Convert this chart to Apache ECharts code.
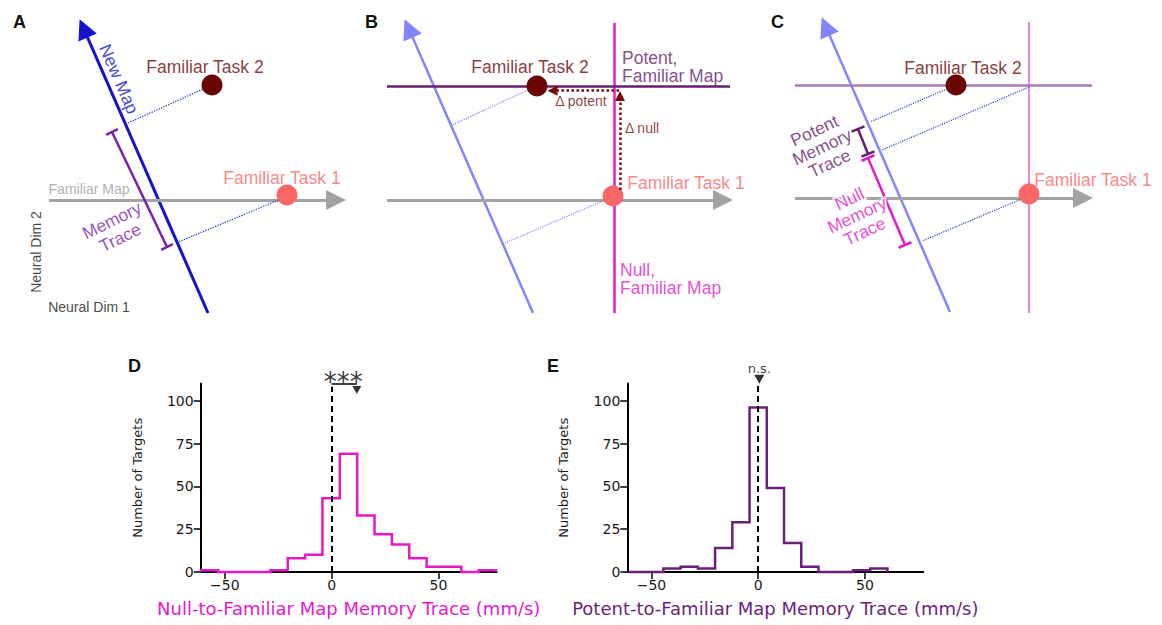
<!DOCTYPE html>
<html><head><meta charset="utf-8">
<script src="https://cdn.jsdelivr.net/npm/echarts@6/dist/echarts.min.js"></script>
<style>html,body{margin:0;padding:0;background:#fff}#c{width:1162px;height:625px}</style>
</head><body><div id="c"></div>
<script>
// ================= DATA =================
// Histogram D: null-to-familiar map memory trace (mm/s)
const nullBinStart = -61.2;
const nullBinWidth = 8.13;
const nullCounts = [1, 0, 0, 0, 1, 8, 10, 43, 69, 33, 22, 16, 8, 3, 3, 0, 1];
const nullMean = 11.8;
// Histogram E: potent-to-familiar map memory trace (mm/s)
const potentBinStart = -60.54;
const potentBinWidth = 8.07;
const potentCounts = [0, 0, 2, 3, 2, 14, 29, 96, 49, 17, 3, 0, 0, 1, 2];
const potentMean = 0.5;
// Tick labels
const xTicks = [-50, 0, 50];
const yTicks = [0, 25, 50, 75, 100];

// Schematic geometry (local diagram units per panel)
const A_newMap = [[208, 313], [83.6, 28.3]];
const A_familiarMap = [[49, 200], [336, 200]];
const A_projections = [[[212, 85], [128, 123]], [[281, 199], [178, 242]]];
const A_memoryTrace = [[112, 132], [167, 247]];
const A_task1 = [287, 195];
const A_task2 = [212, 85];

const B_newMap = [[173, 313], [48.6, 28.3]];
const B_familiarMap = [[27, 200], [363, 200]];
const B_nullAxis = [[254, 23], [254, 313]];
const B_potentAxis = [[27, 86], [370, 86]];
const B_deltaPotent = [[259, 90.7], [192.5, 90.7]];
const B_deltaNull = [[260, 190], [260, 96]];
const B_projections = [[[168, 90], [92, 125]], [[245, 200], [145, 243]]];
const B_task1 = [253, 196];
const B_task2 = [177, 86];

const C_newMap = [[190, 312], [65.6, 26.3]];
const C_familiarMap = [[35, 198], [323, 198]];
const C_nullAxis = [[269, 22], [269, 313]];
const C_potentAxis = [[35, 85], [332, 85]];
const C_projections = [[[196, 85], [110, 122]], [[269, 87], [122, 150]], [[264, 198], [162, 241]]];
const C_potentTrace = [[98, 129], [108, 154]];
const C_nullTrace = [[108, 158], [145, 245]];
const C_task1 = [269, 194];
const C_task2 = [196, 85];

// ================= STYLE =================
const SANS = '"Liberation Sans", Arial, sans-serif';
const DJV = '"DejaVu Sans", sans-serif';
const COL = {
  blue: '#1414cc', lightBlue: '#8484ff', projBlue: '#2d3be3', gray: '#a3a3a3',
  task1: '#f96767', task2: '#6b0505', purple: '#7b1fb0', magenta: '#e21cc6',
  darkPurple: '#64206e', lightMag: '#e984e1', lightPurple: '#a87ab1', brown: '#7a0a0a',
  histMag: '#e619c8', histPur: '#6b1f7a'
};

const series = [];
function seg(g, coords, color, width, o) {
  o = o || {};
  series.push({
    type: 'lines', coordinateSystem: 'cartesian2d', xAxisIndex: g, yAxisIndex: g,
    polyline: false, clip: false, silent: true, z: o.z || 3, animation: false,
    symbol: o.arrow ? ['none', 'triangle'] : 'none',
    symbolSize: o.arrow ? [0, o.arrow] : 0,
    lineStyle: { color: color, width: width, type: o.type || 'solid', opacity: 1, curveness: 0 },
    data: [{ coords: coords }]
  });
}
function bracket(g, p, color, width, cap) {
  seg(g, p, color, width);
  const dx = p[1][0] - p[0][0], dy = p[1][1] - p[0][1];
  const L = Math.hypot(dx, dy), nx = -dy / L * cap / 2, ny = dx / L * cap / 2;
  p.forEach(q => seg(g, [[q[0] - nx, q[1] - ny], [q[0] + nx, q[1] + ny]], color, width));
}
function dots(g, pts) {
  series.push({
    type: 'scatter', xAxisIndex: g, yAxisIndex: g, clip: false, silent: true, z: 4, animation: false,
    symbolSize: 21,
    data: pts.map(p => ({ value: p[0], itemStyle: { color: p[1], opacity: 1 } }))
  });
}
function texts(g, items) {
  series.push({
    type: 'scatter', xAxisIndex: g, yAxisIndex: g, clip: false, silent: true, z: 6, animation: false,
    symbolSize: 0,
    data: items.map(t => ({
      value: t.at,
      label: {
        show: true, formatter: t.text, position: t.align === 'left' ? 'right' : 'inside', distance: 0,
        rotate: t.rot || 0, color: t.color, fontSize: t.size, fontFamily: t.font || SANS,
        lineHeight: t.lh || Math.round(t.size * 1.15), align: t.align || 'center', verticalAlign: 'middle',
        textBorderColor: t.halo ? '#fff' : 'transparent', textBorderWidth: t.halo ? 4 : 0
      }
    }))
  });
}

// ---------- Panel A ----------
seg(0, A_newMap, COL.blue, 3, { arrow: 20 });
seg(0, A_familiarMap, COL.gray, 3, { arrow: 20 });
A_projections.forEach(p => seg(0, p, COL.projBlue, 1.3, { type: 'dotted' }));
bracket(0, A_memoryTrace, COL.purple, 2.5, 13);
dots(0, [[A_task1, COL.task1], [A_task2, COL.task2]]);
texts(0, [
  { text: 'New Map', at: [119, 79], color: COL.blue, size: 17.5, rot: -66.7 },
  { text: 'Familiar Task 2', at: [205, 67], color: COL.task2, size: 17.5 },
  { text: 'Familiar Task 1', at: [282, 178], color: COL.task1, size: 17.5 },
  { text: 'Familiar Map', at: [89, 189], color: '#9a9a9a', size: 14 },
  { text: 'Memory\nTrace', at: [116, 229], color: COL.purple, size: 17.5, rot: 26, lh: 19 },
  { text: 'Neural Dim 2', at: [36, 252], color: '#111', size: 14, rot: 90 },
  { text: 'Neural Dim 1', at: [89, 307], color: '#111', size: 14 }
]);

// ---------- Panel B ----------
seg(1, B_newMap, COL.lightBlue, 2.5, { arrow: 20 });
seg(1, B_familiarMap, COL.gray, 3, { arrow: 20 });
seg(1, B_nullAxis, COL.magenta, 2.5);
seg(1, B_potentAxis, COL.darkPurple, 2.5);
B_projections.forEach(p => seg(1, p, COL.lightBlue, 1.2, { type: 'dotted' }));
seg(1, B_deltaPotent, COL.brown, 2.5, { type: 'dotted', arrow: 10, z: 5 });
seg(1, B_deltaNull, COL.brown, 2.5, { type: 'dotted', arrow: 10, z: 5 });
dots(1, [[B_task1, COL.task1], [B_task2, COL.task2]]);
texts(1, [
  { text: 'Familiar Task 2', at: [170, 67], color: COL.task2, size: 17.5 },
  { text: 'Familiar Task 1', at: [326, 183], color: COL.task1, size: 17.5 },
  { text: 'Potent,\nFamiliar Map', at: [262, 66.5], color: COL.darkPurple, size: 17.5, lh: 18, align: 'left' },
  { text: 'Null,\nFamiliar Map', at: [260, 279], color: COL.magenta, size: 17.5, lh: 18, align: 'left' },
  { text: '\u0394 potent', at: [221, 101], color: COL.brown, size: 14 },
  { text: '\u0394 null', at: [282, 128], color: COL.brown, size: 14 }
]);

// ---------- Panel C ----------
seg(2, C_newMap, COL.lightBlue, 2.5, { arrow: 20 });
seg(2, C_familiarMap, COL.gray, 3, { arrow: 20 });
seg(2, C_nullAxis, COL.lightMag, 2);
seg(2, C_potentAxis, COL.lightPurple, 2.5);
C_projections.forEach(p => seg(2, p, COL.projBlue, 1.2, { type: 'dotted' }));
bracket(2, C_potentTrace, COL.darkPurple, 2.5, 14);
bracket(2, C_nullTrace, COL.magenta, 2.5, 14);
dots(2, [[C_task1, COL.task1], [C_task2, COL.task2]]);
texts(2, [
  { text: 'Familiar Task 2', at: [203, 68], color: COL.task2, size: 17.5 },
  { text: 'Familiar Task 1', at: [333, 180], color: COL.task1, size: 17.5 },
  { text: 'Potent\nMemory\nTrace', at: [62, 147], color: COL.darkPurple, size: 17.5, rot: 25, lh: 18 },
  { text: 'Null\nMemory\nTrace', at: [97, 215], color: COL.magenta, size: 17.5, rot: 25, lh: 18, halo: true }
]);

// ---------- Histograms ----------
function stepPoints(start, w, counts) {
  const pts = [[start, 0]];
  counts.forEach((c, i) => { pts.push([start + i * w, c]); pts.push([start + (i + 1) * w, c]); });
  pts.push([start + counts.length * w, 0]);
  return pts;
}
function hist(g, start, w, counts, color) {
  series.push({
    type: 'line', xAxisIndex: g, yAxisIndex: g, data: stepPoints(start, w, counts),
    showSymbol: false, symbol: 'none', silent: true, animation: false, z: 4, clip: false,
    lineStyle: { color: color, width: 2.5, join: 'miter' }
  });
}
hist(3, nullBinStart, nullBinWidth, nullCounts, COL.histMag);
hist(4, potentBinStart, potentBinWidth, potentCounts, COL.histPur);
// annotations D
seg(3, [[0, 0], [0, 108.2]], '#000', 2, { type: [6, 4], z: 5 });
seg(3, [[0, 109.7], [nullMean, 109.7]], '#000', 1.5, { z: 5 });
series.push({ type: 'scatter', xAxisIndex: 3, yAxisIndex: 3, clip: false, silent: true, z: 6, animation: false,
  symbol: 'triangle', symbolRotate: 180, symbolSize: [9, 8], itemStyle: { color: '#000' }, data: [[nullMean, 106.2]] });
texts(3, [{ text: '***', at: [5.4, 111], color: '#000', size: 26, font: DJV }]);
// annotations E
seg(4, [[0, 0], [0, 110.5]], '#000', 2, { type: [6, 4], z: 5 });
series.push({ type: 'scatter', xAxisIndex: 4, yAxisIndex: 4, clip: false, silent: true, z: 6, animation: false,
  symbol: 'triangle', symbolRotate: 180, symbolSize: [10, 9], itemStyle: { color: '#000' }, data: [[potentMean, 112.5]] });
texts(4, [{ text: 'n.s.', at: [potentMean, 119], color: '#111', size: 13, font: DJV }]);

// ================= AXES =================
const grids = [
  { left: 0, top: 0, width: 360, height: 320 },
  { left: 360, top: 0, width: 400, height: 320 },
  { left: 760, top: 0, width: 400, height: 320 },
  { left: 200.7, top: 383.6, width: 296, height: 188.4 },
  { left: 627.3, top: 383.6, width: 296, height: 188.4 }
];
const xAxes = [], yAxes = [];
for (let g = 0; g < 3; g++) {
  xAxes.push({ gridIndex: g, type: 'value', min: 0, max: grids[g].width, show: false });
  yAxes.push({ gridIndex: g, type: 'value', min: 0, max: grids[g].height, inverse: true, show: false });
}
const minus = v => (v < 0 ? '\u2212' + Math.abs(v) : String(v));
function histX(g, name, color) {
  return {
    gridIndex: g, type: 'value', min: -61.3, max: 77.3,
    axisLine: { show: true, onZero: false, lineStyle: { color: '#000', width: 2 } },
    axisTick: { show: true, customValues: xTicks, length: 7, lineStyle: { color: '#000', width: 1.5 } },
    axisLabel: { show: true, customValues: xTicks, formatter: minus, fontSize: 14, color: '#1a1a1a', fontFamily: DJV, margin: 6 },
    splitLine: { show: false },
    name: name, nameLocation: 'middle', nameGap: 27,
    nameTextStyle: { color: color, fontSize: 18, fontFamily: DJV }
  };
}
function histY(g) {
  return {
    gridIndex: g, type: 'value', min: 0, max: 110,
    axisLine: { show: true, onZero: false, lineStyle: { color: '#000', width: 2 } },
    axisTick: { show: true, customValues: yTicks, length: 7, lineStyle: { color: '#000', width: 1.5 } },
    axisLabel: { show: true, customValues: yTicks, fontSize: 14, color: '#1a1a1a', fontFamily: DJV, margin: 7 },
    splitLine: { show: false },
    name: 'Number of Targets', nameLocation: 'middle', nameGap: 57,
    nameTextStyle: { color: '#1a1a1a', fontSize: 13, fontFamily: DJV }
  };
}
xAxes.push(histX(3, 'Null-to-Familiar Map Memory Trace (mm/s)', COL.histMag));
xAxes.push(histX(4, 'Potent-to-Familiar Map Memory Trace (mm/s)', COL.histPur));
yAxes.push(histY(3)); yAxes.push(histY(4));

const letter = (t, l, tp) => ({ text: t, left: l, top: tp, padding: 0,
  textStyle: { fontSize: 18, fontWeight: 'bold', fontFamily: SANS, color: '#111' } });

const chart = echarts.init(document.getElementById('c'), null, { renderer: 'svg' });
chart.setOption({
  animation: false,
  backgroundColor: '#fff',
  title: [letter('A', 13, 13), letter('B', 365, 13), letter('C', 771, 13), letter('D', 128, 357), letter('E', 547, 357)],
  grid: grids,
  xAxis: xAxes,
  yAxis: yAxes,
  series: series
});
</script></body></html>
